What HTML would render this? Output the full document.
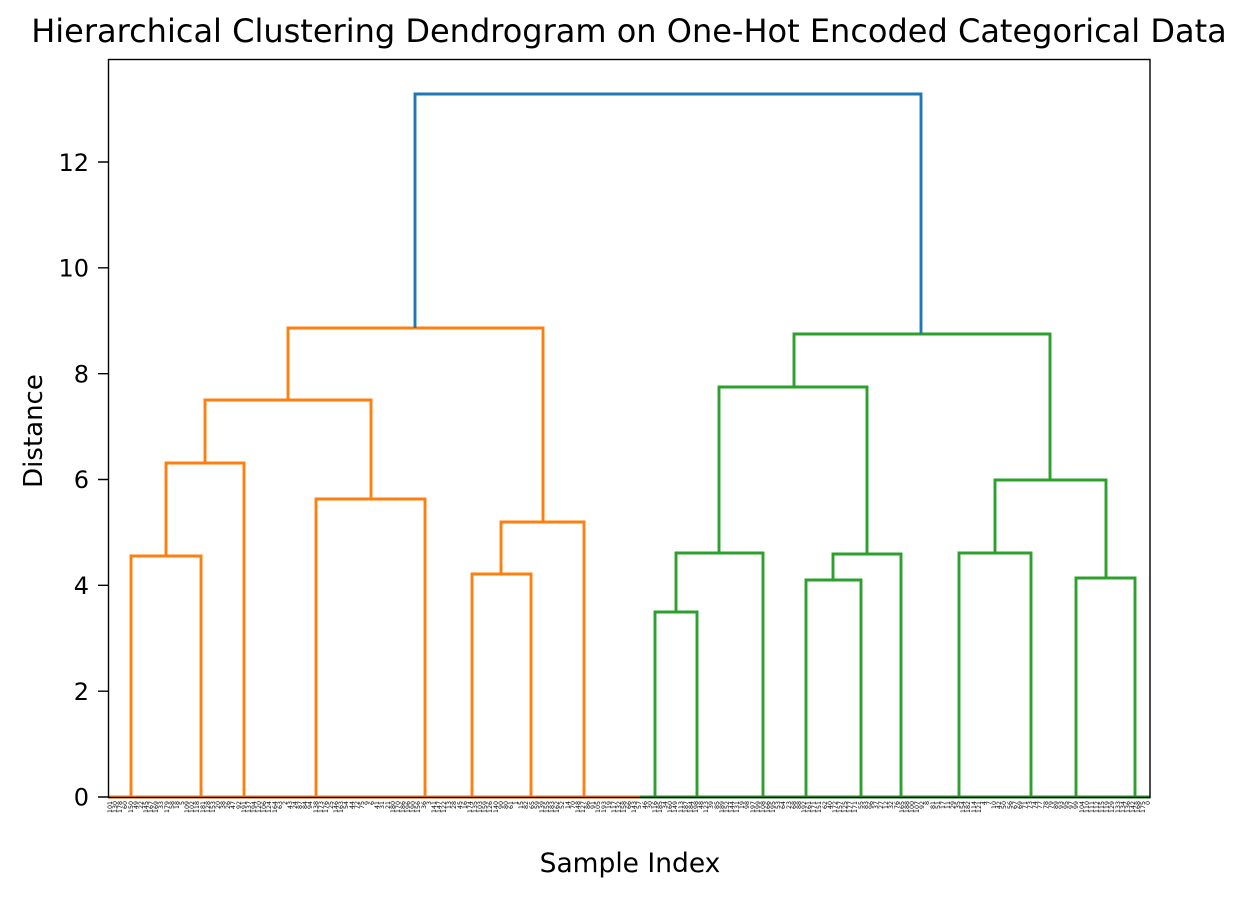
<!DOCTYPE html>
<html><head><meta charset="utf-8"><style>
body{margin:0;background:#fff;width:1245px;height:898px;overflow:hidden;position:relative;font-family:"DejaVu Sans","Liberation Sans",sans-serif}
svg{position:absolute;left:0;top:0}
#lab{position:absolute;left:108px;top:801px;width:1042px;height:43px;display:flex}
#lab span{flex:1 1 0;min-width:0;height:43px;writing-mode:vertical-rl;transform:rotate(180deg);text-align:end;font-size:6.3px;line-height:5.21px;color:#000;white-space:nowrap;overflow:visible}
</style></head><body>
<svg width="1245" height="898" xmlns="http://www.w3.org/2000/svg">
<text x="629" y="42" font-size="32" text-anchor="middle" font-family="DejaVu Sans, Liberation Sans, sans-serif">Hierarchical Clustering Dendrogram on One-Hot Encoded Categorical Data</text>
<g fill="none" stroke-width="2.9" stroke-linecap="butt">
<g stroke="#ff7f0e">
<path d="M108 797H640"/>
<path d="M131 797V556H201V797"/>
<path d="M166 556V463H244V797"/>
<path d="M205 463V400H371V499"/>
<path d="M316 797V499H425V797"/>
<path d="M288 400V328H543V522"/>
<path d="M472 797V574H531V797"/>
<path d="M501 574V522H584V797"/>
</g>
<g stroke="#2ca02c">
<path d="M640 797H1150"/>
<path d="M655 797V612H697V797"/>
<path d="M676 612V553H763V797"/>
<path d="M806 797V580H861V797"/>
<path d="M833 580V554H901V797"/>
<path d="M719 553V387H867V554"/>
<path d="M794 387V334H1050V480"/>
<path d="M959 797V553H1031V797"/>
<path d="M995 553V480H1106V578"/>
<path d="M1076 797V578H1135V797"/>
</g>
<path stroke="#1f77b4" d="M415 328V94H921V334"/>
</g>
<rect x="108.5" y="59.5" width="1041.5" height="738" fill="none" stroke="#000" stroke-width="1.4"/>
<g stroke="#000" stroke-width="1.4">
<path d="M98 797H108M98 691.2H108M98 585.3H108M98 479.5H108M98 373.7H108M98 267.8H108M98 162H108"/>
</g>
<g font-size="24" text-anchor="end" font-family="DejaVu Sans, Liberation Sans, sans-serif">
<text x="89" y="805.5">0</text>
<text x="89" y="700">2</text>
<text x="89" y="594">4</text>
<text x="89" y="488">6</text>
<text x="89" y="382.5">8</text>
<text x="89" y="276.5">10</text>
<text x="89" y="171">12</text>
</g>
<text x="630" y="872" font-size="26.5" text-anchor="middle" font-family="DejaVu Sans, Liberation Sans, sans-serif">Sample Index</text>
<text x="0" y="0" font-size="26" text-anchor="middle" transform="translate(42 431) rotate(-90)" font-family="DejaVu Sans, Liberation Sans, sans-serif">Distance</text>
</svg>
<div id="lab"><span>101</span><span>130</span><span>178</span><span>60</span><span>150</span><span>49</span><span>22</span><span>145</span><span>167</span><span>169</span><span>33</span><span>179</span><span>58</span><span>18</span><span>5</span><span>109</span><span>102</span><span>118</span><span>181</span><span>128</span><span>153</span><span>20</span><span>38</span><span>26</span><span>47</span><span>92</span><span>191</span><span>137</span><span>194</span><span>120</span><span>106</span><span>124</span><span>164</span><span>63</span><span>2</span><span>43</span><span>24</span><span>87</span><span>84</span><span>94</span><span>138</span><span>173</span><span>176</span><span>25</span><span>146</span><span>163</span><span>54</span><span>44</span><span>72</span><span>75</span><span>9</span><span>6</span><span>41</span><span>31</span><span>21</span><span>180</span><span>170</span><span>186</span><span>196</span><span>190</span><span>156</span><span>36</span><span>3</span><span>141</span><span>147</span><span>122</span><span>13</span><span>28</span><span>45</span><span>16</span><span>174</span><span>135</span><span>103</span><span>159</span><span>126</span><span>140</span><span>90</span><span>80</span><span>61</span><span>1</span><span>15</span><span>82</span><span>65</span><span>59</span><span>139</span><span>155</span><span>183</span><span>162</span><span>52</span><span>14</span><span>70</span><span>148</span><span>127</span><span>86</span><span>91</span><span>105</span><span>193</span><span>19</span><span>117</span><span>132</span><span>158</span><span>66</span><span>143</span><span>57</span><span>46</span><span>30</span><span>116</span><span>185</span><span>34</span><span>160</span><span>149</span><span>113</span><span>187</span><span>184</span><span>198</span><span>48</span><span>123</span><span>39</span><span>85</span><span>189</span><span>152</span><span>144</span><span>131</span><span>19</span><span>98</span><span>197</span><span>199</span><span>108</span><span>166</span><span>195</span><span>53</span><span>64</span><span>23</span><span>68</span><span>88</span><span>192</span><span>161</span><span>171</span><span>151</span><span>62</span><span>40</span><span>172</span><span>157</span><span>125</span><span>177</span><span>171</span><span>55</span><span>83</span><span>96</span><span>37</span><span>27</span><span>12</span><span>32</span><span>76</span><span>165</span><span>188</span><span>100</span><span>107</span><span>92</span><span>8</span><span>81</span><span>51</span><span>17</span><span>11</span><span>29</span><span>35</span><span>154</span><span>182</span><span>114</span><span>121</span><span>4</span><span>7</span><span>10</span><span>42</span><span>50</span><span>56</span><span>67</span><span>69</span><span>71</span><span>73</span><span>74</span><span>77</span><span>78</span><span>79</span><span>89</span><span>93</span><span>95</span><span>97</span><span>99</span><span>104</span><span>110</span><span>111</span><span>112</span><span>115</span><span>119</span><span>129</span><span>133</span><span>134</span><span>136</span><span>142</span><span>168</span><span>175</span><span>0</span></div>
</body></html>
